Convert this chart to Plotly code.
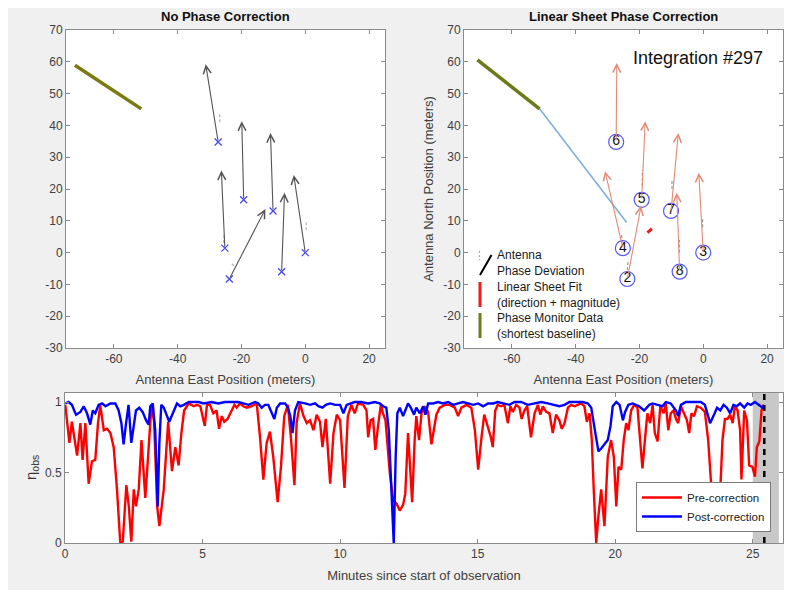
import plotly.graph_objects as go

# ---------------- top panels: antenna layout (metres) ----------------
ant_id = ["6", "5", "7", "4", "3", "8", "2"]
ant_x = [-27.3, -19.3, -10.1, -25.2, 0.0, -7.4, -23.8]
ant_y = [34.8, 16.6, 13.1, 1.4, 0.0, -6.0, -8.3]

# phase-deviation vectors before correction (arrow tips)
raw_tip_x = [-31.2, -19.9, -10.9, -26.3, -3.6, -6.5, -12.5]
raw_tip_y = [59.2, 41.3, 37.6, 25.8, 24.4, 18.8, 13.7]

# phase-deviation vectors after linear sheet correction (arrow tips)
cor_tip_x = [-27.1, -18.2, -7.8, -30.8, -1.4, -8.3, -19.5]
cor_tip_y = [59.6, 41.3, 37.6, 25.6, 25.1, 18.8, 14.7]

# short antenna phase-deviation ticks (x0, y0, x1, y1)
dev_left_x0 = [-26.8, 0.3, -23.0, -25.6]
dev_left_y0 = [41.0, 7.0, -3.5, 3.0]
dev_left_x1 = [-26.8, 0.3, -22.0, -25.4]
dev_left_y1 = [44.0, 9.6, -4.5, 6.0]
dev_right_x0 = [-19.1, -9.8, -25.4, -23.6, -0.2, -7.5]
dev_right_y0 = [21.0, 20.0, 3.0, -3.0, 8.0, 0.0]
dev_right_x1 = [-19.1, -9.8, -25.6, -23.8, -0.2, -7.5]
dev_right_y1 = [26.0, 22.5, 5.5, -5.5, 11.0, 4.0]

# phase monitor (shortest baseline) trail
pm_left_x = [-72.2, -51.4]
pm_left_y = [58.9, 45.2]
pm_right_x = [-70.8, -51.3]
pm_right_y = [60.6, 45.2]
# projection of phase monitor onto array
proj_x = [-51.3, -24.0]
proj_y = [45.2, 9.5]
# linear sheet fit (direction + magnitude)
fit_x = [-17.5, -16.1]
fit_y = [6.3, 7.5]

pos_ticks = [-60, -40, -20, 0, 20]
north_ticks = [-30, -20, -10, 0, 10, 20, 30, 40, 50, 60, 70]

# ---------------- bottom panel: efficiency vs time ----------------
pre_t = [0.01, 0.16, 0.25, 0.44, 0.56, 0.64, 0.74, 0.86, 0.98, 1.10, 1.20, 1.28, 1.41, 1.53, 1.65,
         1.77, 1.89, 2.01, 2.10, 2.23, 2.32, 2.41, 2.50, 2.58, 2.68, 2.78, 2.92, 3.02, 3.14, 3.24,
         3.35, 3.43, 3.53, 3.59, 3.75, 3.89, 4.01, 4.13, 4.23, 4.33, 4.50, 4.68, 4.80, 4.92, 5.08,
         5.16, 5.27, 5.39, 5.51, 5.60, 5.70, 5.79, 5.91, 6.04, 6.16, 6.24, 6.36, 6.48, 6.61, 6.79,
         6.97, 7.09, 7.21, 7.33, 7.45, 7.57, 7.73, 7.85, 7.97, 8.10, 8.22, 8.34, 8.42, 8.54, 8.67,
         8.79, 8.91, 9.03, 9.15, 9.27, 9.36, 9.48, 9.64, 9.76, 9.88, 10.00, 10.16, 10.28, 10.41, 10.53,
         10.65, 10.84, 10.96, 11.02, 11.11, 11.20, 11.28, 11.38, 11.48, 11.56, 11.65, 11.81, 11.93, 12.05, 12.17,
         12.29, 12.37, 12.47, 12.62, 12.71, 12.77, 12.87, 12.96, 13.08, 13.20, 13.32, 13.42, 13.50, 13.62, 13.81,
         13.99, 14.17, 14.29, 14.41, 14.59, 14.77, 14.90, 15.02, 15.14, 15.24, 15.36, 15.48, 15.55, 15.64, 15.73,
         15.85, 15.97, 16.10, 16.19, 16.28, 16.40, 16.52, 16.60, 16.70, 16.80, 16.94, 17.07, 17.19, 17.28, 17.37,
         17.49, 17.61, 17.73, 17.85, 17.97, 18.06, 18.16, 18.28, 18.40, 18.52, 18.64, 18.76, 18.88, 18.97, 19.07,
         19.15, 19.22, 19.31, 19.39, 19.49, 19.61, 19.73, 19.85, 19.95, 20.04, 20.12, 20.22, 20.31, 20.40, 20.48,
         20.58, 20.69, 20.81, 20.91, 20.99, 21.08, 21.17, 21.27, 21.36, 21.44, 21.54, 21.64, 21.76, 21.84, 21.93,
         22.02, 22.12, 22.21, 22.29, 22.39, 22.51, 22.61, 22.69, 22.77, 22.87, 22.97, 23.11, 23.26, 23.38, 23.50,
         23.60, 23.72, 23.82, 23.90, 23.99, 24.08, 24.18, 24.27, 24.35, 24.45, 24.54, 24.59, 24.69, 24.79, 24.87,
         24.99, 25.08, 25.15, 25.24, 25.32, 25.39]
pre_v = [0.98, 0.71, 0.86, 0.62, 0.85, 0.59, 0.85, 0.42, 0.58, 0.59, 0.85, 0.98, 0.80, 0.81, 0.78,
         0.68, 0.38, 0.00, 0.01, 0.41, 0.26, 0.01, 0.38, 0.26, 0.38, 0.73, 0.32, 0.64, 0.97, 0.86,
         0.26, 0.12, 0.26, 0.38, 0.86, 0.51, 0.68, 0.55, 0.78, 0.94, 0.99, 0.97, 0.98, 0.97, 0.83,
         0.98, 0.98, 0.92, 0.94, 0.81, 0.90, 0.86, 0.88, 0.93, 0.98, 0.96, 0.99, 0.97, 0.96, 0.97,
         0.99, 0.75, 0.45, 0.71, 0.79, 0.61, 0.29, 0.54, 0.90, 0.98, 0.73, 0.41, 0.85, 0.99, 0.90,
         0.85, 0.87, 0.80, 0.91, 0.86, 0.68, 0.88, 0.42, 0.78, 0.91, 0.87, 0.39, 0.90, 0.98, 0.92,
         0.99, 0.98, 0.94, 0.75, 0.87, 0.88, 0.66, 0.83, 0.98, 0.92, 0.87, 0.49, 0.30, 0.28, 0.23,
         0.27, 0.35, 0.78, 0.29, 0.73, 0.90, 0.73, 0.92, 0.97, 0.93, 0.70, 0.83, 0.91, 0.96, 0.98,
         0.98, 0.96, 0.90, 0.96, 0.98, 0.96, 0.80, 0.52, 0.75, 0.91, 0.83, 0.75, 0.68, 0.94, 0.98,
         0.97, 0.98, 0.85, 0.97, 0.93, 0.98, 0.96, 0.88, 0.94, 0.97, 0.75, 0.92, 0.98, 0.91, 0.97,
         0.93, 0.92, 0.78, 0.91, 0.87, 0.81, 0.85, 0.96, 0.98, 0.97, 0.98, 0.99, 0.97, 0.86, 0.92,
         0.73, 0.38, 0.00, 0.19, 0.38, 0.12, 0.61, 0.73, 0.61, 0.26, 0.54, 0.52, 0.73, 0.85, 0.80,
         0.94, 0.98, 0.96, 0.71, 0.53, 0.73, 0.92, 0.85, 0.98, 0.78, 0.72, 0.97, 0.92, 0.99, 0.80,
         0.92, 0.94, 0.88, 0.85, 0.97, 0.91, 0.87, 0.78, 0.92, 0.90, 0.97, 0.96, 0.93, 0.73, 0.38,
         0.09, 0.19, 0.38, 0.73, 0.88, 0.88, 0.91, 0.85, 0.97, 0.94, 0.80, 0.45, 0.94, 0.87, 0.55,
         0.54, 0.47, 0.68, 0.72, 0.94, 0.98]

post_t = [0.01, 0.13, 0.25, 0.40, 0.56, 0.68, 0.80, 0.92, 1.01, 1.10, 1.22, 1.35, 1.47, 1.65, 1.83,
          1.95, 2.05, 2.13, 2.22, 2.31, 2.41, 2.50, 2.58, 2.70, 2.82, 2.95, 3.04, 3.10, 3.19, 3.28,
          3.37, 3.43, 3.50, 3.59, 3.71, 3.79, 3.92, 4.07, 4.19, 4.32, 4.50, 4.68, 4.86, 5.04, 5.33,
          5.57, 5.82, 6.06, 6.30, 6.48, 6.67, 6.91, 7.03, 7.15, 7.27, 7.39, 7.49, 7.61, 7.70, 7.82,
          8.00, 8.10, 8.19, 8.27, 8.36, 8.48, 8.73, 8.91, 9.09, 9.21, 9.36, 9.48, 9.64, 9.82, 10.00,
          10.12, 10.24, 10.36, 10.53, 10.77, 11.02, 11.26, 11.44, 11.56, 11.68, 11.77, 11.87, 11.95, 12.02, 12.08,
          12.17, 12.29, 12.37, 12.47, 12.57, 12.69, 12.77, 12.90, 13.02, 13.10, 13.20, 13.38, 13.56, 13.74, 13.93,
          14.11, 14.29, 14.47, 14.65, 14.84, 15.02, 15.20, 15.38, 15.56, 15.73, 15.97, 16.16, 16.34, 16.58, 16.82,
          17.07, 17.31, 17.55, 17.79, 17.97, 18.16, 18.34, 18.58, 18.82, 19.01, 19.13, 19.22, 19.31, 19.39, 19.49,
          19.61, 19.73, 19.83, 19.91, 20.04, 20.16, 20.28, 20.36, 20.48, 20.64, 20.87, 21.05, 21.24, 21.36, 21.54,
          21.72, 21.84, 22.02, 22.21, 22.29, 22.39, 22.57, 22.75, 22.93, 23.11, 23.26, 23.36, 23.45, 23.57, 23.70,
          23.82, 23.94, 24.06, 24.18, 24.30, 24.42, 24.54, 24.69, 24.81, 24.93, 25.08, 25.24, 25.36, 25.42]
post_v = [0.99, 1.00, 0.98, 0.91, 0.93, 0.97, 0.92, 0.84, 0.94, 0.92, 0.98, 0.99, 0.97, 0.99, 0.99,
          0.94, 0.85, 0.70, 0.85, 0.98, 0.71, 0.85, 0.94, 0.96, 0.93, 0.87, 0.84, 0.97, 0.99, 0.80,
          0.26, 0.71, 0.98, 0.96, 0.90, 0.86, 0.92, 0.99, 0.97, 0.98, 1.00, 1.00, 1.00, 0.99, 1.00,
          0.99, 1.00, 1.00, 1.00, 0.99, 0.98, 1.00, 0.99, 0.96, 0.98, 0.98, 0.93, 0.88, 0.96, 0.99,
          0.99, 0.96, 0.90, 0.78, 0.94, 1.00, 0.99, 0.98, 0.99, 0.97, 0.96, 0.98, 0.99, 0.98, 0.98,
          0.92, 0.98, 0.99, 1.00, 1.00, 0.99, 1.00, 0.99, 0.97, 0.96, 0.80, 0.38, 0.00, 0.61, 0.92,
          0.96, 0.90, 0.94, 0.99, 0.96, 0.91, 0.96, 0.92, 0.97, 0.91, 0.99, 0.99, 1.00, 0.99, 1.00,
          0.98, 0.99, 1.00, 0.99, 0.98, 0.99, 0.97, 0.99, 0.99, 1.00, 0.99, 0.98, 1.00, 1.00, 0.98,
          0.99, 1.00, 0.99, 0.98, 0.97, 0.98, 1.00, 1.00, 1.00, 0.99, 0.96, 0.85, 0.73, 0.65, 0.67,
          0.70, 0.73, 0.83, 0.97, 1.00, 0.98, 0.87, 0.93, 0.98, 0.99, 0.97, 0.94, 0.98, 0.99, 0.98,
          0.97, 1.00, 0.99, 0.94, 0.90, 0.98, 1.00, 1.00, 1.00, 1.00, 0.98, 0.92, 0.85, 0.90, 0.96,
          0.94, 0.98, 0.96, 0.92, 0.98, 0.97, 0.99, 0.96, 0.99, 0.98, 1.00, 0.98, 0.96, 0.98]

time_ticks = [0, 5, 10, 15, 20, 25]
eff_ticks = [0, 0.5, 1]
eff_tick_text = ["0", "0.5", "1"]

current_time = 25.42
highlight_span = [25.0, 25.95]
integration_label = "Integration #297"

FONT = "Liberation Sans, Arial, sans-serif"
OFF = 8            # page offset of the figure (body margin)
W, H = 780, 582    # figure size


def px_x(p):
    return (p - OFF) / W


def px_y(p):
    return 1 - (p - OFF) / H


def seg_xy(x0, y0, x1, y1):
    xs, ys = [], []
    for a, b, c, d in zip(x0, y0, x1, y1):
        xs += [a, c, None]
        ys += [b, d, None]
    return xs, ys


def hyphen(vals):
    return [str(v) for v in vals]


fig = go.Figure()

# ---- left panel ----
dx, dy = seg_xy(dev_left_x0, dev_left_y0, dev_left_x1, dev_left_y1)
fig.add_trace(go.Scatter(x=dx, y=dy, mode="lines", xaxis="x", yaxis="y",
                         line=dict(color="#b0b0b0", width=1.2, dash="3px,2px"), showlegend=False, hoverinfo="skip"))
fig.add_trace(go.Scatter(x=pm_left_x, y=pm_left_y, mode="lines", xaxis="x", yaxis="y",
                         line=dict(color="#7a7a10", width=3.5), showlegend=False))
fig.add_trace(go.Scatter(x=ant_x, y=ant_y, mode="markers", xaxis="x", yaxis="y",
                         marker=dict(symbol="x-thin-open", size=7, color="#4a4ae8", line=dict(color="#4a4ae8", width=1.3)),
                         showlegend=False))

# ---- right panel ----
fig.add_trace(go.Scatter(x=proj_x, y=proj_y, mode="lines", xaxis="x2", yaxis="y2",
                         line=dict(color="#7fb0d8", width=1.6), showlegend=False))
fig.add_trace(go.Scatter(x=pm_right_x, y=pm_right_y, mode="lines", xaxis="x2", yaxis="y2",
                         line=dict(color="#6e7a1a", width=3.5), showlegend=False))
dx, dy = seg_xy(dev_right_x0, dev_right_y0, dev_right_x1, dev_right_y1)
fig.add_trace(go.Scatter(x=dx, y=dy, mode="lines", xaxis="x2", yaxis="y2",
                         line=dict(color="#9a9a9a", width=1.2, dash="3px,2px"), showlegend=False))
fig.add_trace(go.Scatter(x=fit_x, y=fit_y, mode="lines", xaxis="x2", yaxis="y2",
                         line=dict(color="#ee1c1c", width=3), showlegend=False))
fig.add_trace(go.Scatter(x=ant_x, y=ant_y, mode="markers+text", xaxis="x2", yaxis="y2",
                         text=ant_id, textposition="middle center",
                         textfont=dict(family=FONT, size=14, color="#111111"),
                         marker=dict(symbol="circle-open", size=15, color="#5a5af0", line=dict(color="#5a5af0", width=1.2)),
                         showlegend=False))

# ---- bottom panel ----
fig.add_trace(go.Scatter(x=pre_t, y=pre_v, mode="lines", xaxis="x3", yaxis="y3", name="Pre-correction",
                         line=dict(color="#ff0000", width=2.4)))
fig.add_trace(go.Scatter(x=post_t, y=post_v, mode="lines", xaxis="x3", yaxis="y3", name="Post-correction",
                         line=dict(color="#0000ff", width=2.4)))

# arrows (quiver)
ann = []
for x0, y0, x1, y1 in zip(ant_x, ant_y, raw_tip_x, raw_tip_y):
    ann.append(dict(x=x1, y=y1, ax=x0, ay=y0, xref="x", yref="y", axref="x", ayref="y",
                    text="", showarrow=True, arrowhead=5, arrowsize=1.4, arrowwidth=1.1,
                    arrowcolor="#555555"))
for x0, y0, x1, y1 in zip(ant_x, ant_y, cor_tip_x, cor_tip_y):
    ann.append(dict(x=x1, y=y1, ax=x0, ay=y0, xref="x2", yref="y2", axref="x2", ayref="y2",
                    text="", showarrow=True, arrowhead=5, arrowsize=1.4, arrowwidth=1.1,
                    arrowcolor="#e58a74"))

ann += [
    dict(x=px_x(225.5), y=px_y(17), xref="paper", yref="paper", text="<b>No Phase Correction</b>",
         xanchor="center", yanchor="middle",
         showarrow=False, font=dict(size=13, family=FONT, color="#111111")),
    dict(x=px_x(623.5), y=px_y(17), xref="paper", yref="paper", text="<b>Linear Sheet Phase Correction</b>",
         xanchor="center", yanchor="middle",
         showarrow=False, font=dict(size=13, family=FONT, color="#111111")),
    dict(x=px_x(631), y=px_y(58), xref="paper", yref="paper", text=integration_label, xanchor="left",
         yanchor="middle", showarrow=False, font=dict(size=18, family=FONT, color="#111111")),
]
legend_lines = [("Antenna", 255), ("Phase Deviation", 271.5), ("Linear Sheet Fit", 287),
                ("(direction + magnitude)", 303), ("Phase Monitor Data", 318), ("(shortest baseline)", 334)]
for s, yy in legend_lines:
    ann.append(dict(x=px_x(495), y=px_y(yy), xref="paper", yref="paper", text=s, xanchor="left",
                    yanchor="middle", showarrow=False, font=dict(size=12, family=FONT, color="#1a1a1a")))

ann.append(dict(x=px_x(31), y=px_y(468), xref="paper", yref="paper", text="η<sub>obs</sub>",
                xanchor="center", yanchor="middle",
                textangle=-90, showarrow=False, font=dict(size=15, family=FONT, color="#333333")))

shapes = [
    dict(type="rect", xref="x3", yref="y3 domain", x0=highlight_span[0], x1=highlight_span[1], y0=0, y1=1,
         fillcolor="#c8c8c8", line=dict(width=0), layer="below"),
    dict(type="line", xref="x3", yref="y3 domain", x0=current_time, x1=current_time, y0=0, y1=1,
         line=dict(color="#000000", width=2.5, dash="6px,5px"), layer="above"),
    # legend icons of right panel
    dict(type="line", xref="paper", yref="paper", x0=px_x(479.5), x1=px_x(479.5), y0=px_y(251), y1=px_y(260),
         line=dict(color="#aaaaaa", width=1.2, dash="2px,2px")),
    dict(type="line", xref="paper", yref="paper", x0=px_x(480), x1=px_x(491.5), y0=px_y(275), y1=px_y(255),
         line=dict(color="#000000", width=2)),
    dict(type="line", xref="paper", yref="paper", x0=px_x(480), x1=px_x(480), y0=px_y(282), y1=px_y(307),
         line=dict(color="#ee1c1c", width=3)),
    dict(type="line", xref="paper", yref="paper", x0=px_x(480), x1=px_x(480), y0=px_y(313), y1=px_y(338),
         line=dict(color="#6e7a1a", width=3)),
]

axcol = "#8a8a8a"
tickfont = dict(family=FONT, size=12, color="#404040")
common = dict(showline=True, mirror="ticks", linecolor=axcol, linewidth=1, ticks="inside", ticklen=4,
              tickcolor=axcol, showgrid=False, zeroline=False, tickfont=tickfont, automargin=False)
title_font = dict(family=FONT, size=13, color="#404040")

fig.update_layout(
    width=W, height=H, margin=dict(l=0, r=0, t=0, b=0, autoexpand=False),
    paper_bgcolor="#f0f0f0", plot_bgcolor="#ffffff",
    font=dict(family=FONT),
    xaxis=dict(domain=[px_x(66), px_x(385)], range=[-75, 25], tickvals=pos_ticks, ticktext=hyphen(pos_ticks),
               title=dict(text="Antenna East Position (meters)", font=title_font, standoff=9), anchor="y", **common),
    yaxis=dict(domain=[px_y(348), px_y(30)], range=[-30, 70], tickvals=north_ticks, ticktext=hyphen(north_ticks),
               anchor="x", **common),
    xaxis2=dict(domain=[px_x(464), px_x(783)], range=[-75, 25], tickvals=pos_ticks, ticktext=hyphen(pos_ticks),
                title=dict(text="Antenna East Position (meters)", font=title_font, standoff=9), anchor="y2", **common),
    yaxis2=dict(domain=[px_y(348), px_y(30)], range=[-30, 70], tickvals=north_ticks, ticktext=hyphen(north_ticks),
                title=dict(text="Antenna North Position (meters)", font=title_font, standoff=6), anchor="x2", **common),
    xaxis3=dict(domain=[px_x(65), px_x(783)], range=[0, 26.1], tickvals=time_ticks,
                title=dict(text="Minutes since start of observation", font=title_font, standoff=10), anchor="y3", **common),
    yaxis3=dict(domain=[px_y(543), px_y(393)], range=[0, 1.064], tickvals=eff_ticks,
                ticktext=eff_tick_text, anchor="x3", **common),
    legend=dict(x=px_x(771), y=px_y(532), xanchor="right", yanchor="bottom", bgcolor="#ffffff",
                bordercolor="#7a7a7a", borderwidth=1, font=dict(family=FONT, size=11.5, color="#222222"),
                tracegroupgap=0, itemwidth=40),
    annotations=ann,
    shapes=shapes,
)

fig.write_html("out.html")
